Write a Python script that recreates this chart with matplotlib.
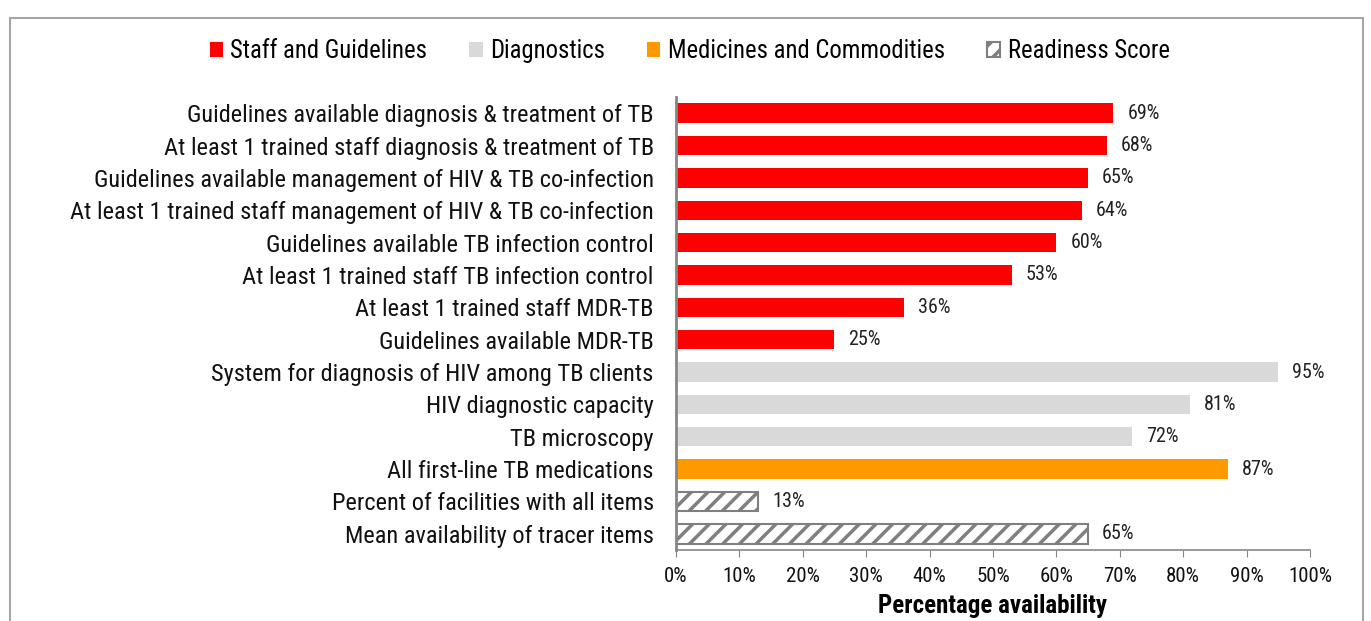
import numpy as np
import matplotlib.pyplot as plt
from matplotlib.patches import Patch, Rectangle

plt.rcParams['font.family'] = ['Arial Narrow', 'Liberation Sans Narrow', 'Roboto Condensed',
                               'Archivo Narrow', 'DejaVu Sans']
plt.rcParams['hatch.linewidth'] = 2.5

labels = [
    "Guidelines available diagnosis & treatment of TB",
    "At least 1 trained staff diagnosis & treatment of TB",
    "Guidelines available management of HIV & TB co-infection",
    "At least 1 trained staff management of HIV & TB co-infection",
    "Guidelines available TB infection control",
    "At least 1 trained staff TB infection control",
    "At least 1 trained staff MDR-TB",
    "Guidelines available MDR-TB",
    "System for diagnosis of HIV among TB clients",
    "HIV diagnostic capacity",
    "TB microscopy",
    "All first-line TB medications",
    "Percent of facilities with all items",
    "Mean availability of tracer items",
]
values = [69, 68, 65, 64, 60, 53, 36, 25, 95, 81, 72, 87, 13, 65]
groups = ["staff"] * 8 + ["diag"] * 3 + ["meds"] + ["ready"] * 2

colors = {"staff": "#FF0000", "diag": "#D9D9D9", "meds": "#FF9900", "ready": "white"}
names = {"staff": "Staff and Guidelines", "diag": "Diagnostics",
         "meds": "Medicines and Commodities", "ready": "Readiness Score"}

fig = plt.figure(figsize=(13.71, 6.21), dpi=100)
ax = fig.add_axes([0.493, 0.1143, 0.4625, 0.7295])

y = np.arange(len(values))
for i, (v, g) in enumerate(zip(values, groups)):
    if g == "ready":
        ax.barh(i, v / 100, height=0.6, color="white", edgecolor="#7F7F7F",
                hatch="//", linewidth=1.5)
    else:
        ax.barh(i, v / 100, height=0.6, color=colors[g], linewidth=0)
    ax.text(v / 100 + 0.022, i, f"{v}%", va="center", ha="left",
            fontsize=14.5, color="#222222")

ax.set_ylim(len(values) - 0.5, -0.5)
ax.set_xlim(0, 1)
ax.set_yticks(y)
ax.set_yticklabels(labels, fontsize=17.6, color="#111111")
ax.tick_params(axis="y", length=0, pad=16)
ax.set_xticks(np.arange(0, 1.01, 0.1))
ax.set_xticklabels([f"{int(round(t * 100))}%" for t in np.arange(0, 1.01, 0.1)],
                   fontsize=15, color="#111111")
ax.tick_params(axis="x", length=5, color="#868686", pad=7)
for s in ["top", "right"]:
    ax.spines[s].set_visible(False)
ax.spines["left"].set_color("#868686")
ax.spines["left"].set_linewidth(2)
ax.spines["bottom"].set_color("#868686")
ax.spines["bottom"].set_linewidth(1.2)
ax.set_xlabel("Percentage availability", fontsize=18, fontweight="bold", labelpad=6)

handles = []
for g in ["staff", "diag", "meds", "ready"]:
    if g == "ready":
        handles.append(Patch(facecolor="white", edgecolor="#7F7F7F", hatch="//",
                             linewidth=1.5, label=names[g]))
    else:
        handles.append(Patch(facecolor=colors[g], label=names[g]))
fig.legend(handles=handles, loc="center", bbox_to_anchor=(0.503, 0.918), ncol=4,
           frameon=False, fontsize=17.7, handlelength=0.55, handleheight=0.55,
           handletextpad=0.3, columnspacing=1.7)

# outer frame around the figure
fig.patches.append(Rectangle((10 / 1371, -0.05), 1353 / 1371, 1 - 18 / 621 + 0.05,
                             transform=fig.transFigure, fill=False,
                             edgecolor="#A6A6A6", linewidth=1.5))

fig.savefig("out.png", dpi=100)
